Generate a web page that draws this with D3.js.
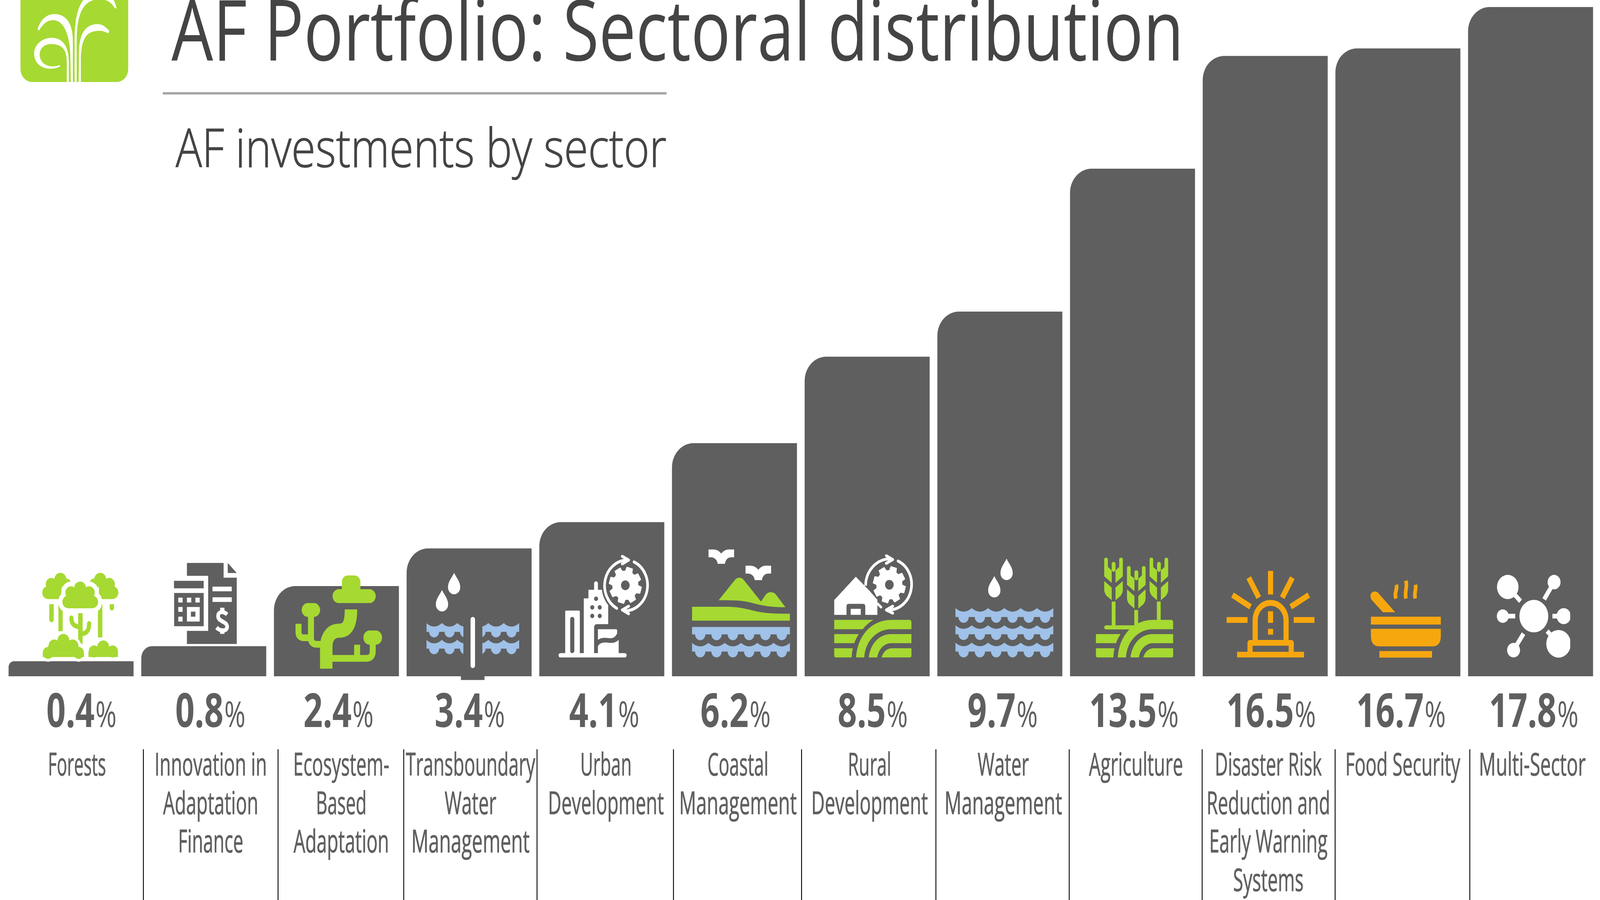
<!DOCTYPE html>
<html>
<head>
<meta charset="utf-8">
<title>AF Portfolio: Sectoral distribution</title>
<script src="https://d3js.org/d3.v7.min.js"></script>
<style>
    html, body { margin: 0; padding: 0; background: #fff; overflow: hidden; }
    /* the window can come out narrower than asked, so the drawing always fills it */
    svg { display: block; width: 100vw; height: 100vh; }
    .title { font-family: "Open Sans"; font-weight: 400; fill: #444; }
    .sub { font-weight: 300; stroke: #444; stroke-width: 1.5px; }
    .value { font-family: "Open Sans"; font-weight: 700; font-size: 120px; fill: #5f5f5f; }
    .pct { font-weight: 400; font-size: 91px; }
    .name { font-family: "Open Sans"; font-size: 81px; fill: #5f5f5f; stroke: #5f5f5f; stroke-width: 1px; }
</style>
</head>
<body>
<div id="container"><svg></svg></div>
<script>
const width = 4609, height = 2305;

// data
const sectorLines = [
    ["Forests"],
    ["Innovation in", "Adaptation", "Finance"],
    ["Ecosystem-", "Based", "Adaptation"],
    ["Transboundary", "Water", "Management"],
    ["Urban", "Development"],
    ["Coastal", "Management"],
    ["Rural", "Development"],
    ["Water", "Management"],
    ["Agriculture"],
    ["Disaster Risk", "Reduction and", "Early Warning", "Systems"],
    ["Food Security"],
    ["Multi-Sector"]
];
const sectors = sectorLines.map(d => d.join(" "));
const shares = [0.4, 0.8, 2.4, 3.4, 4.1, 6.2, 8.5, 9.7, 13.5, 16.5, 16.7, 17.8];

// layout, labels are not centred on their bars
const valueDx = [30, 19, 6, 2, 7, 3, 16, 8, 4, 17, 9, 9];
const nameDx = [17, 20, 14, 4, 12, 10, 7, 10, 10, 9, 14, 5];
const nameWidths = [
    [167], [324, 274, 188], [277, 146, 275], [373, 149, 341], [148, 334], [176, 339],
    [125, 336], [148, 339], [271], [308, 356, 341, 203], [331], [308]
];
const dividers = [413, 801, 1163, 1547, 1940, 2309, 2696, 3080, 3463, 3846, 4234];

const GREEN = "#a6d932", BLUE = "#a0c1e8", ORANGE = "#f7a70e", GREY = "#5f5f5f", WHITE = "#fff";

let svg = d3.select("#container").select("svg")
    .attr("viewBox", `0 0 ${width} ${height}`)
    .attr("preserveAspectRatio", "none");
let defs = svg.append("defs");

let x = d3.scaleBand().domain(sectors).range([24.7, 4589]).paddingInner(0.058);
let y = d3.scaleLinear().domain([0, 17.8]).range([1732, 18]);

// small drawing helpers, icon coordinates are in zoomed picture units
function path(g, d, fill) {
    return g.append("path").attr("d", d).attr("fill", fill);
}
function line(g, d, color, w, cap) {
    return g.append("path").attr("d", d).attr("fill", "none").attr("stroke", color)
        .attr("stroke-width", w).attr("stroke-linecap", cap || "butt").attr("stroke-linejoin", "round");
}
function rect(g, x0, y0, x1, y1, fill, r) {
    return g.append("rect").attr("x", x0).attr("y", y0).attr("width", x1 - x0).attr("height", y1 - y0)
        .attr("rx", r || 0).attr("fill", fill);
}
function circle(g, cx, cy, r, fill) {
    return g.append("circle").attr("cx", cx).attr("cy", cy).attr("r", r).attr("fill", fill);
}
function drop(g, cx, t, r) {
    path(g, `M${cx},${t} C${cx + 12},${t + 25} ${cx + r},${t + 45} ${cx + r},${t + 78}
        A${r},${r} 0 1 1 ${cx - r},${t + 78} C${cx - r},${t + 45} ${cx - 12},${t + 25} ${cx},${t} Z`, WHITE);
}
// squeeze a text sideways to the width it has in the picture
function fit(t, px, py, w) {
    let natural = t.node().getComputedTextLength();
    t.attr("transform", `translate(${px},${py}) scale(${w / natural},1)`);
    return t;
}
// one band of water, scalloped on top (unless flat) and below
function wave(g, x0, y0, n, p, r, band, flat) {
    let d = `M${x0},${y0}`;
    for (let i = 0; i < n; i++) {
        d += flat ? ` H${x0 + (i + 1) * p}` : ` Q${x0 + (i + 0.5) * p},${y0 + 38} ${x0 + (i + 1) * p},${y0}`;
    }
    d += ` V${y0 + band}`;
    for (let i = n - 1; i >= 0; i--) {
        let cx = x0 + (i + 0.5) * p;
        d += ` H${cx + r} A${r},${r} 0 0 1 ${cx - r},${y0 + band}`;
    }
    d += ` H${x0} Z`;
    path(g, d, BLUE);
}
function gear(g, cx, cy) {
    let pts = [];
    d3.range(8).forEach(i => {
        let a = (16 + i * 45 - 90) * Math.PI / 180;
        [[-15, 76], [-10, 97], [10, 97], [15, 76]].forEach(p => {
            let t = a + p[0] * Math.PI / 180;
            pts.push([cx + p[1] * Math.cos(t), cy + p[1] * Math.sin(t)]);
        });
    });
    g.append("path").attr("d", "M" + pts.join("L") + "Z").attr("fill", WHITE)
        .attr("stroke", WHITE).attr("stroke-width", 6).attr("stroke-linejoin", "round");
    circle(g, cx, cy, 26, GREY);
}
function cloud(g, circles, rects, fill, halo) {
    let c = g.append("g").attr("fill", fill);
    if (halo) c.attr("stroke", WHITE).attr("stroke-width", halo);
    circles.forEach(d => c.append("circle").attr("cx", d[0]).attr("cy", d[1]).attr("r", d[2]));
    rects.forEach(d => c.append("rect").attr("x", d[0]).attr("y", d[1]).attr("width", d[2] - d[0]).attr("height", d[3] - d[1]));
}
function fields(g, dx, topRow) {
    let f = g.append("g").attr("transform", `translate(${dx},0)`).attr("fill", GREEN);
    if (topRow) path(f, "M183,498 L420,498 C395,510 370,530 355,548 L183,548 Z", GREEN);
    path(f, "M183,574 L331,574 C320,590 310,605 304,623 L183,623 Z", GREEN);
    path(f, "M183,650 L295,650 C291,665 289,680 288,699 L193,699 Q183,699 183,689 Z", GREEN);
    path(f, "M315,699 C322,590 400,498 530,498 L635,498 Q648,498 648,511 L648,548 L525,548 C440,548 370,610 364,699 Z", GREEN);
    path(f, "M391,699 C400,630 450,574 525,574 L648,574 L648,623 L525,623 C485,623 450,655 442,699 Z", GREEN);
    path(f, "M468,699 C478,670 500,650 530,650 L648,650 L648,689 Q648,699 638,699 Z", GREEN);
}
function wheat(g, cx, top) {
    let h = g.append("g").attr("transform", `translate(${cx - 266},${top - 165})`);
    ["M210,175 Q210,165 221,165 Q232,165 232,175 L232,215 L255,233 L255,300 L210,265 Z",
     "M322,175 Q322,165 311,165 Q300,165 300,175 L300,215 L278,233 L278,300 L322,265 Z",
     "M255,198 Q255,188 266,188 Q278,188 278,198 L278,233 L266,243 L255,233 Z",
     "M210,290 L255,325 L255,393 L225,370 Q210,355 210,335 Z",
     "M322,290 L278,325 L278,393 L308,370 Q322,355 322,335 Z"].forEach(d => path(h, d, GREEN));
}

// one drawer per sector, with the point of its own picture that sits at the bar's bottom left
const icons = [
    { origin: [10, 653], draw: g => {
        cloud(g, [[322, 135, 36], [268, 160, 34], [358, 160, 30], [247, 205, 34]], [[247, 160, 330, 240]], GREEN);
        cloud(g, [[562, 135, 36], [616, 160, 34], [526, 160, 30], [637, 205, 34]], [[554, 160, 637, 240]], GREEN);
        rect(g, 255, 267, 282, 352, GREEN);
        circle(g, 268.5, 350, 13.5, GREEN);
        rect(g, 310, 265, 336, 412, GREEN);
        rect(g, 548, 265, 575, 445, GREEN);
        rect(g, 619, 267, 645, 288, GREEN);
        circle(g, 632, 288, 13, GREEN);
        let c = [[441, 182, 36], [386, 205, 34], [495, 205, 34], [367, 255, 33], [516, 255, 33]],
            r = [[367, 205, 516, 289]];
        cloud(g, c, r, WHITE, 50);
        cloud(g, c, r, GREEN);
        rect(g, 429, 315, 456, 480, GREEN);
        line(g, "M388,340 Q388,385 435,388", GREEN, 25, "round");
        line(g, "M495,370 Q495,425 450,425", GREEN, 25, "round");
        let b1 = [[340, 462, 36], [285, 490, 34], [396, 490, 34], [248, 528, 32], [432, 528, 32]],
            b1r = [[248, 490, 432, 528], [216, 528, 464, 550]],
            b2 = [[580, 497, 36], [525, 520, 32], [637, 520, 32]],
            b2r = [[525, 500, 637, 520], [491, 520, 669, 550]];
        cloud(g, b1, b1r, WHITE, 30);
        cloud(g, b2, b2r, WHITE, 30);
        cloud(g, b1, b1r, GREEN);
        cloud(g, b2, b2r, GREEN);
    } },
    { origin: [809, 653], draw: g => {
        path(g, "M1084,46 L1305,46 L1305,125 L1384,125 L1384,480 L1084,480 L1084,410 L1212,410 L1212,115 L1084,115 Z", GREY);
        path(g, "M1330,46 L1384,100 L1330,100 Z", GREY);
        rect(g, 1006, 142, 1185, 182, GREY);
        rect(g, 1007, 207, 1185, 385, GREY);
        [[1032, 232], [1084, 232], [1135, 232], [1032, 282], [1032, 334]].forEach(d => rect(g, d[0], d[1], d[0] + 26, d[1] + 26, WHITE));
        rect(g, 1084, 282, 1161, 360, WHITE);
        rect(g, 1108, 307, 1135, 334, GREY);
        rect(g, 1238, 173, 1354, 198, WHITE);
        rect(g, 1238, 230, 1354, 255, WHITE);
        line(g, "M1326,322 C1300,300 1268,308 1272,335 C1276,362 1326,358 1326,388 C1326,415 1285,412 1262,392", WHITE, 22);
        rect(g, 1284, 286, 1310, 306, WHITE);
        rect(g, 1284, 406, 1310, 426, WHITE);
    } },
    { origin: [8, 716], draw: g => {
        rect(g, 417, 176, 529, 290, GREEN, 36);
        rect(g, 361, 250, 621, 324, GREEN, 37);
        rect(g, 175, 324, 286, 398, GREEN, 37);
        rect(g, 547, 471, 659, 547, GREEN, 37);
        line(g, "M323,675 L323,560 C323,510 350,472 400,472 C450,472 472,440 472,358", GREEN, 75);
        line(g, "M340,620 L565,620 Q603,620 603,580 L603,530", GREEN, 36);
        line(g, "M509,620 L509,547", GREEN, 36);
        line(g, "M231,380 L231,510 Q231,545 265,545 L310,545", GREEN, 36);
        line(g, "M156,435 L156,480 Q156,510 190,510 L231,510", GREEN, 36);
    } },
    { origin: [808, 716], draw: g => {
        drop(g, 1094, 162, 37);
        drop(g, 1021, 254, 37);
        rect(g, 1193, 398, 1220, 672, WHITE, 13);
        rect(g, 1135, 716, 1277, 736, GREY);
        defs.append("clipPath").attr("id", "wave-clip").selectAll("rect")
            .data([[927, 1150], [1264, 1486]]).join("rect")
            .attr("x", d => d[0]).attr("y", 400).attr("width", d => d[1] - d[0]).attr("height", 220);
        let w = g.append("g").attr("clip-path", "url(#wave-clip)");
        [431, 521].forEach(t => {
            wave(w, 927, t, 3, 93, 30, 47);
            wave(w, 1207, t, 3, 93, 30, 47);
        });
    } },
    { origin: [7, 800], draw: g => {
        rect(g, 123, 676, 533, 699, WHITE, 11);
        rect(g, 163, 448, 251, 680, WHITE, 6);
        rect(g, 193, 482, 218, 676, GREY, 12);
        path(g, "M275,680 L275,383 L303,383 L303,337 L337,337 L337,304 Q337,292 348,292 Q360,292 360,304 L360,337 L385,337 L422,412 L422,521 L355,521 Q337,521 337,540 L337,680 Z", WHITE);
        [[349, 385], [326, 431], [371, 431], [326, 477], [371, 477]].forEach(d => circle(g, d[0], d[1], 12, GREY));
        path(g, "M360,548 L468,548 Q476,548 476,556 L476,570 C460,600 440,597 420,595 C395,592 375,595 360,605 Z", WHITE);
        path(g, "M360,680 L360,640 C370,620 395,618 420,620 C445,623 465,622 485,605 L485,680 Z", WHITE);
        line(g, "M473,436 A137,137 0 0 1 535,178", GREY, 36);
        line(g, "M473,436 A137,137 0 0 1 535,178", WHITE, 16, "round");
        line(g, "M578,188 A137,137 0 0 1 520,450", WHITE, 16, "round");
        line(g, "M507,158 L545,178 L507,198", WHITE, 16, "round");
        line(g, "M545,425 L507,445 L545,465", WHITE, 16, "round");
        gear(g, 525, 313);
    } },
    { origin: [807, 800], draw: g => {
        let bird = "M1027,121 L1060,121 C1080,122 1095,133 1104,143 C1115,130 1130,121 1150,121 L1181,121 L1181,163 L1160,163 C1140,165 1128,180 1126,198 L1082,198 C1080,178 1065,165 1045,163 L1027,163 Z";
        path(g, bird, WHITE);
        path(g, bird, WHITE).attr("transform", "translate(223,87)");
        path(g, "M1088,393 L1185,285 C1200,268 1225,268 1240,285 L1343,400 L1370,365 C1385,345 1420,345 1435,365 L1490,430 C1400,432 1340,420 1280,405 C1220,392 1160,393 1088,393 Z", GREEN);
        path(g, "M928,428 L1130,428 C1230,428 1270,445 1330,455 C1390,465 1450,465 1517,465 L1517,502 L928,502 Z", GREEN);
        wave(g, 928, 536, 6, 98.2, 31, 40, true);
        wave(g, 928, 621, 6, 98.2, 31, 47);
    } },
    { origin: [5, 800], draw: g => {
        path(g, "M183,471 L183,392 L313,267 L373,322 L393,340 L443,390 L443,471 L370,471 L370,425 Q370,412 355,412 L270,412 Q257,412 257,425 L257,471 Z", WHITE);
        rect(g, 282, 439, 343, 471, WHITE);
        line(g, "M445,412 L465,430", WHITE, 14, "round");
        line(g, "M372,315 A145,145 0 0 1 525,172", WHITE, 16);
        line(g, "M568,183 A137,137 0 0 1 510,445", WHITE, 16, "round");
        line(g, "M497,155 L535,175 L497,195", WHITE, 16, "round");
        line(g, "M535,425 L497,445 L535,462", WHITE, 16, "round");
        gear(g, 515, 310);
        fields(g, 0, true);
    } },
    { origin: [805, 800], draw: g => {
        drop(g, 1222, 170, 37);
        drop(g, 1148, 263, 37);
        [435, 527, 620].forEach(t => wave(g, 914, t, 6, 98.2, 31, 48));
    } },
    { origin: [4, 800], draw: g => {
        wheat(g, 266, 165);
        wheat(g, 403, 210);
        wheat(g, 539, 165);
        rect(g, 255, 400, 278, 530, GREEN);
        rect(g, 391, 445, 414, 530, GREEN);
        rect(g, 527, 400, 550, 505, GREEN);
        rect(g, 210, 527, 400, 549, GREEN, 11);
        fields(g, -23, false);
    } },
    { origin: [803, 800], draw: g => {
        rect(g, 1196, 236, 1227, 362, ORANGE);
        rect(g, 947, 483, 1073, 514, ORANGE);
        rect(g, 1351, 483, 1476, 514, ORANGE);
        ["M1141,379 L1080,272", "M1282,379 L1343,272", "M1091,428 L982,365", "M1333,428 L1442,365"]
            .forEach(d => line(g, d, ORANGE, 31));
        line(g, "M1119,620 L1119,500 A93,93 0 0 1 1305,500 L1305,620", ORANGE, 31);
        rect(g, 1196, 452, 1227, 514, ORANGE);
        rect(g, 1196, 546, 1227, 577, ORANGE);
        line(g, "M1088,684 L1088,621 L1336,621 L1336,684", ORANGE, 31);
        rect(g, 1010, 669, 1413, 699, ORANGE);
    } },
    { origin: [3, 800], draw: g => {
        rect(g, 217, 481, 638, 523, ORANGE);
        path(g, "M217,546 L638,546 L638,585 Q638,640 585,640 L270,640 Q217,640 217,585 Z", ORANGE);
        rect(g, 268, 665, 585, 700, ORANGE);
        path(g, "M222,392 Q205,365 225,350 Q245,340 262,355 L363,457 L289,457 Z", ORANGE);
        ["M370,310 C378,335 356,350 368,384", "M428,288 C438,330 418,345 428,384", "M485,310 C492,335 475,350 484,384"]
            .forEach(d => line(g, d, ORANGE, 22));
    } },
    { origin: [802, 800], draw: g => {
        defs.append("clipPath").attr("id", "net-clip").append("rect")
            .attr("x", 900).attr("y", 200).attr("width", 517).attr("height", 540);
        let n = g.append("g").attr("clip-path", "url(#net-clip)");
        circle(n, 1198, 478, 87, WHITE);
        [[1041, 322, 65, 1118, 398], [1320, 296, 39, 1260, 388], [1011, 478, 36, 1086, 478],
         [1378, 478, 43, 1310, 478], [1076, 660, 39, 1136, 572], [1347, 626, 74, 1278, 558]].forEach(d => {
            circle(n, d[0], d[1], d[2], WHITE);
            line(n, `M${d[0]},${d[1]} L${d[3]},${d[4]}`, WHITE, 25);
        });
    } }
];

function draw_logo() {
    let g = svg.append("g").attr("transform", "translate(30,0) scale(0.3333)");
    rect(g, 87, -200, 1018, 630, GREEN, 100);
    ["M487,630 L487,480 C485,400 470,340 350,338 C290,338 253,375 253,420 C255,480 310,510 360,510 C390,510 410,505 425,500 L431,508 C410,522 380,528 350,528 C260,528 205,480 205,410 C205,340 280,290 355,290 C440,290 505,340 505,480 L505,630 Z",
     "M522,630 L518,420 C515,290 470,155 370,155 C310,155 280,190 250,230 Q240,240 236,225 C250,170 300,108 380,108 C490,108 540,190 540,320 L540,630 Z",
     "M555,630 L555,320 C555,150 580,50 640,-10 L885,-10 C900,10 912,40 916,60 Q910,70 900,60 C870,15 830,-5 770,-5 C620,-5 573,120 573,320 L573,630 Z",
     "M590,630 L592,400 C595,270 640,185 755,185 C800,185 830,215 850,232 Q860,250 842,255 C820,245 800,236 765,236 C650,240 609,300 609,480 L609,630 Z"
    ].forEach(d => path(g, d, WHITE));
}

function draw_header() {
    fit(svg.append("text").attr("class", "title")
        .attr("font-size", 217)
        .text("AF Portfolio: Sectoral distribution"), 494, 155, 2916);
    rect(svg, 469, 236, 1920, 242, "#a6a6a6");
    fit(svg.append("text").attr("class", "title sub")
        .attr("font-size", 136)
        .text("AF investments by sector"), 506, 428, 1414);
}

function draw_bars() {
    svg.append("g").selectAll("path")
        .data(shares)
        .join("path")
        .attr("fill", GREY)
        .attr("d", (d, i) => {
            let x0 = x(sectors[i]), w = x.bandwidth(), top = y(d), base = y(0);
            let r = Math.min(62, (base - top) * 0.4);
            return `M${x0},${base} V${top + r} A${r},${r} 0 0 1 ${x0 + r},${top} H${x0 + w} V${base} Z`;
        });
}

function draw_icons() {
    let s = 750 / 1568;
    icons.forEach((icon, i) => {
        let g = svg.append("g")
            .attr("transform", `translate(${x(sectors[i])},${y(0)}) scale(${s}) translate(${-icon.origin[0]},${-icon.origin[1]})`);
        icon.draw(g);
    });
}

function draw_labels() {
    let value = svg.append("g").selectAll("text")
        .data(shares)
        .join("text")
        .attr("class", "value")
        .attr("text-anchor", "middle")
        .attr("transform", (d, i) => `translate(${x(sectors[i]) + x.bandwidth() / 2 + valueDx[i]},1862) scale(0.81,1)`)
        .text(d => d.toFixed(1));
    value.append("tspan").attr("class", "pct").attr("dx", 3).text("%");

    sectorLines.forEach((lines, i) => {
        lines.forEach((t, j) => {
            let label = svg.append("text").attr("class", "name")
                .attr("text-anchor", "middle")
                .text(t);
            fit(label, x(sectors[i]) + x.bandwidth() / 2 + nameDx[i], 1986 + j * 98.6, nameWidths[i][j]);
        });
    });

    svg.append("g").selectAll("line")
        .data(dividers)
        .join("line")
        .attr("x1", d => d).attr("x2", d => d)
        .attr("y1", 1919).attr("y2", height)
        .attr("stroke", "#000").attr("stroke-width", 2.5);
}

draw_logo();
draw_header();
draw_bars();
draw_icons();
draw_labels();
</script>
</body>
</html>
